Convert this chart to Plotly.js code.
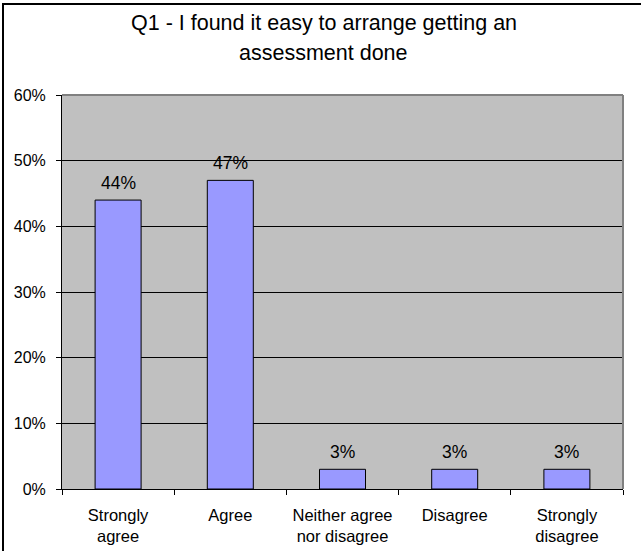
<!DOCTYPE html>
<html>
<head>
<meta charset="utf-8">
<script src="https://cdn.plot.ly/plotly-3.0.1.min.js"></script>
<style>
  html, body { margin: 0; padding: 0; background: #ffffff; }
  #frame {
    position: absolute; left: 2px; top: 3px; width: 700px; height: 600px;
    border-left: 2px solid #000; border-top: 2px solid #000; box-sizing: border-box;
  }
  #chart { position: absolute; left: 0; top: 0; width: 641px; height: 551px; }
</style>
</head>
<body>
<div id="frame"></div>
<div id="chart"></div>
<script>
// Survey responses to Q1 (share of respondents, %)
const categories = [
  "Strongly<br>agree",
  "Agree",
  "Neither agree<br>nor disagree",
  "Disagree",
  "Strongly<br>disagree"
];
const percentages = [44, 47, 3, 3, 3];
const titleLines = ["Q1 - I found it easy to arrange getting an", "assessment done"];
const yTickValues = [0, 10, 20, 30, 40, 50, 60];
const yTickLabels = ["0%", "10%", "20%", "30%", "40%", "50%", "60%"];

const FONT = "Arial, 'Liberation Sans', sans-serif";

const bars = {
  type: "bar",
  x: categories,
  y: percentages,
  width: 0.41,
  marker: { color: "#9999FF", line: { color: "#000000", width: 1 } },
  hoverinfo: "skip"
};

// value labels above each bar
const valueLabels = percentages.map((v, i) => ({
  x: categories[i], y: v, xref: "x", yref: "y",
  text: v + "%", showarrow: false,
  yanchor: "bottom", yshift: 5,
  font: { family: FONT, size: 17.5, color: "#000" }
}));

// two-line chart title, centred on the whole chart area
const titleAnnots = [
  { text: titleLines[0], y: 1.183 },
  { text: titleLines[1], y: 1.107 }
].map(t => ({
  x: 0.467, xref: "paper", yref: "paper", y: t.y, yanchor: "middle",
  text: t.text, showarrow: false,
  font: { family: FONT, size: 21.5, color: "#000" }
}));

const layout = {
  width: 641, height: 551,
  margin: { l: 62, r: 18, t: 95, b: 62 },
  paper_bgcolor: "rgba(0,0,0,0)",
  plot_bgcolor: "#C0C0C0",
  showlegend: false,
  bargap: 0,
  font: { family: FONT, size: 16, color: "#000" },
  xaxis: {
    type: "category",
    showgrid: false,
    showline: true, linecolor: "#000", linewidth: 1,
    ticks: "outside", tickson: "boundaries", ticklen: 5, tickcolor: "#000",
    ticklabelstandoff: 11,
    tickfont: { family: FONT, size: 16.5, color: "#000" },
    fixedrange: true
  },
  yaxis: {
    range: [0, 60],
    tickvals: yTickValues, ticktext: yTickLabels,
    showgrid: true, gridcolor: "#000", gridwidth: 1,
    showline: true, linecolor: "#000", linewidth: 1,
    ticks: "outside", ticklen: 5, tickcolor: "#000",
    ticklabelstandoff: 7,
    tickfont: { family: FONT, size: 16, color: "#000" },
    zeroline: false,
    fixedrange: true
  },
  shapes: [
    { type: "line", xref: "paper", yref: "paper", x0: 0, x1: 1, y0: 1, y1: 1,
      line: { color: "#808080", width: 2 }, layer: "above" },
    { type: "line", xref: "paper", yref: "paper", x0: 1, x1: 1, y0: 0, y1: 1,
      line: { color: "#808080", width: 2 }, layer: "above" }
  ],
  annotations: titleAnnots.concat(valueLabels)
};

Plotly.newPlot("chart", [bars], layout, { displayModeBar: false, staticPlot: true });
</script>
</body>
</html>
